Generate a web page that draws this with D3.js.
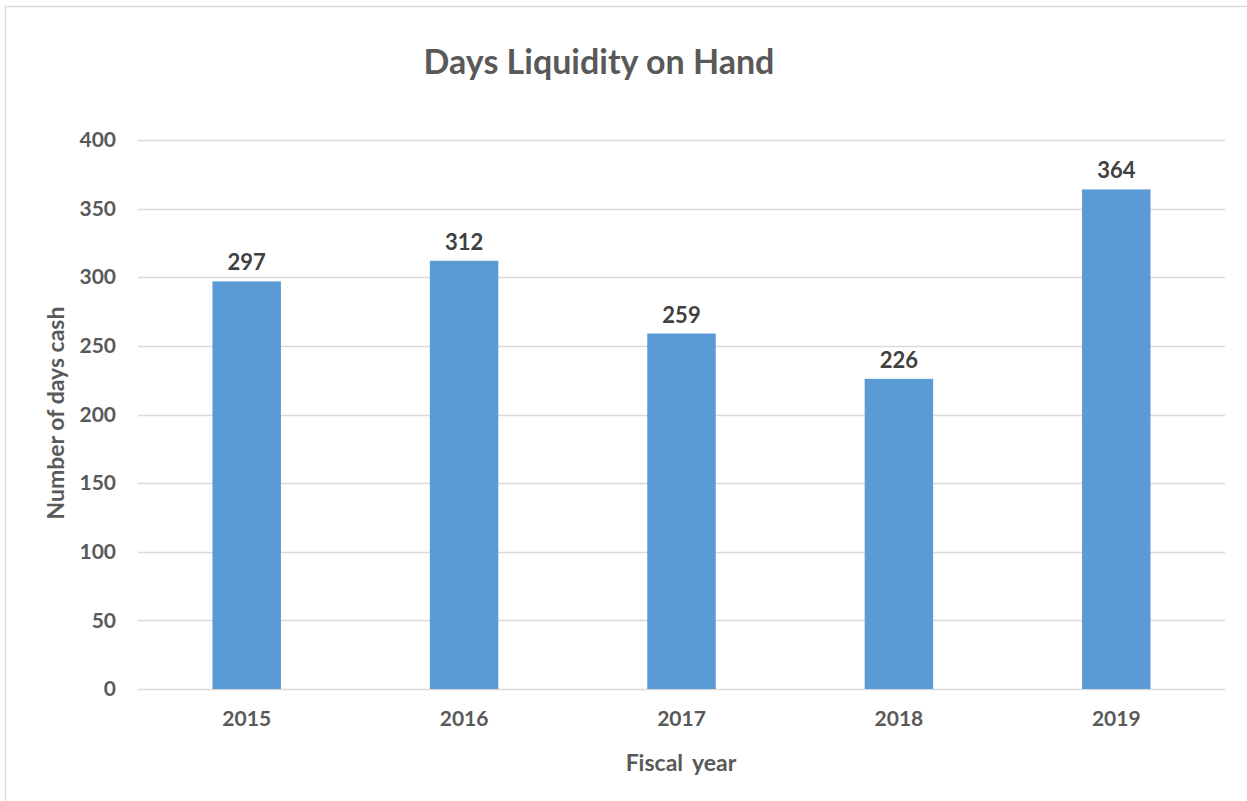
<!DOCTYPE html>
<html lang="en">
<head>
<meta charset="utf-8">
<title>Days Liquidity on Hand</title>
<script src="https://cdnjs.cloudflare.com/ajax/libs/d3/7.8.5/d3.min.js"></script>
<style>
  body { margin: 0; background: #fff; }
  svg text { font-family: Lato, "Open Sans", sans-serif; font-weight: bold; }
</style>
</head>
<body>
<script>
// data
var years = ["2015", "2016", "2017", "2018", "2019"];
var daysCash = [297, 312, 259, 226, 364];
var yTicks = [0, 50, 100, 150, 200, 250, 300, 350, 400];

var w = 1247, h = 801;
var plotLeft = 138, plotRight = 1225, plotTop = 140, plotBottom = 689;

var svg = d3.select("body").append("svg")
  .attr("width", w)
  .attr("height", h);

// chart frame (only left and top edges show)
svg.append("line").attr("x1", 5.5).attr("x2", 5.5).attr("y1", 6).attr("y2", h)
  .attr("stroke", "#d9d9d9").attr("stroke-width", 1.5);
svg.append("line").attr("x1", 5).attr("x2", w).attr("y1", 6.5).attr("y2", 6.5)
  .attr("stroke", "#d9d9d9").attr("stroke-width", 1.5);

var x = d3.scaleBand().domain(years).range([plotLeft, plotRight]).padding(0);
var y = d3.scaleLinear().domain([0, 400]).range([plotBottom, plotTop]);
var barW = x.bandwidth() * 0.315;

// gridlines
svg.append("g")
  .selectAll("line")
  .data(yTicks)
  .join("line")
  .attr("x1", plotLeft).attr("x2", plotRight)
  .attr("y1", function(d) { return Math.round(y(d)) + 0.5; })
  .attr("y2", function(d) { return Math.round(y(d)) + 0.5; })
  .attr("stroke", "#d9d9d9")
  .attr("stroke-width", 1.5);

// y tick labels
var yAxis = svg.append("g")
  .attr("transform", "translate(" + (plotLeft - 22) + ",0)")
  .call(d3.axisLeft(y).tickValues(yTicks).tickSize(0).tickPadding(0));
yAxis.select(".domain").remove();
yAxis.selectAll("text")
  .attr("fill", "#595959")
  .style("font-size", "21px")
  .style("font-family", "Lato, sans-serif");

// x tick labels
var xAxis = svg.append("g")
  .attr("transform", "translate(0," + plotBottom + ")")
  .call(d3.axisBottom(x).tickSize(0).tickPadding(22));
xAxis.select(".domain").remove();
xAxis.selectAll("text")
  .attr("fill", "#595959")
  .style("font-size", "21px")
  .style("font-family", "Lato, sans-serif");

// bars
svg.append("g")
  .selectAll("rect")
  .data(daysCash)
  .join("rect")
  .attr("x", function(d, i) { return x(years[i]) + x.bandwidth() / 2 - barW / 2; })
  .attr("y", function(d) { return y(d); })
  .attr("width", barW)
  .attr("height", function(d) { return y(0) - y(d); })
  .attr("fill", "#5b9bd5");

// value labels
svg.append("g")
  .selectAll("text")
  .data(daysCash)
  .join("text")
  .attr("x", function(d, i) { return x(years[i]) + x.bandwidth() / 2; })
  .attr("y", function(d) { return y(d) - 11; })
  .attr("text-anchor", "middle")
  .attr("fill", "#404040")
  .style("font-size", "22px")
  .text(function(d) { return d; });

// title
svg.append("text")
  .attr("x", 599).attr("y", 74)
  .attr("text-anchor", "middle")
  .attr("fill", "#595959")
  .style("font-size", "34px")
  .text("Days Liquidity on Hand");

// axis titles
svg.append("text")
  .attr("transform", "translate(64,413) rotate(-90)")
  .attr("text-anchor", "middle")
  .attr("fill", "#595959")
  .style("font-size", "23px")
  .text("Number of days cash");

svg.append("text")
  .attr("x", 681).attr("y", 771)
  .attr("text-anchor", "middle")
  .attr("fill", "#595959")
  .style("font-size", "23px")
  .style("word-spacing", "4px")
  .text("Fiscal year");
</script>
</body>
</html>
